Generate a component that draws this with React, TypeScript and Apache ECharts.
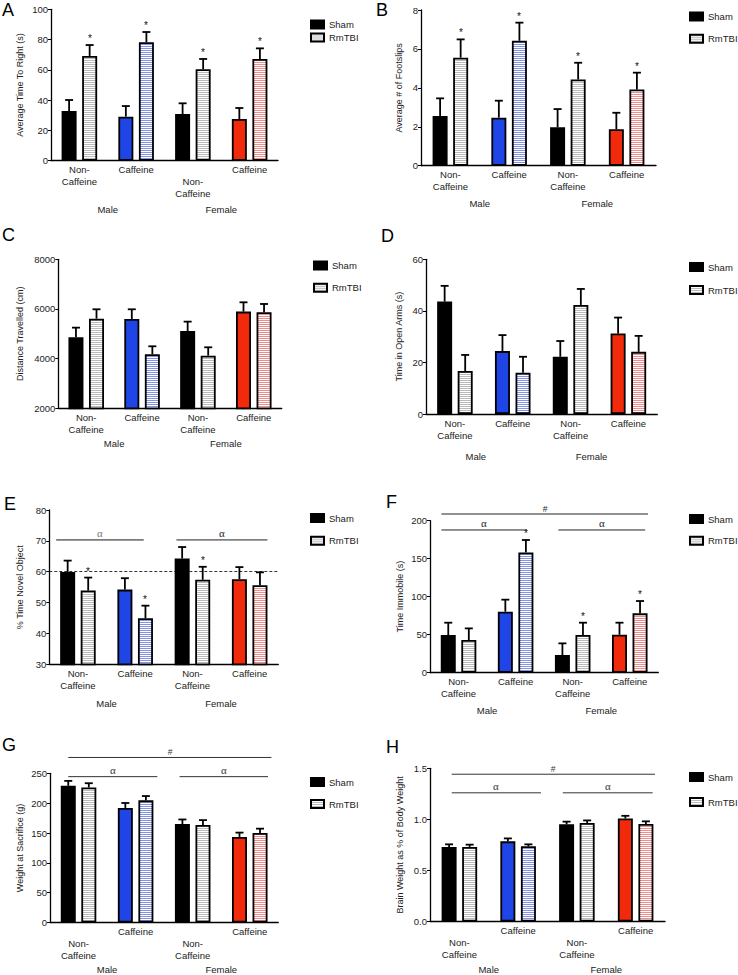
import React, { useEffect, useRef } from 'react';
import * as echarts from 'echarts';

// ---------- categories / labels ----------
const groups = ['Non-\nCaffeine', 'Caffeine', 'Non-\nCaffeine', 'Caffeine'];
const sexes = ['Male', 'Female'];
const legendNames = ['Sham', 'RmTBI'];

// ---------- data (mean, SEM, significance stars) ----------
// A: Average Time To Right (s)
const aSham = [32.8, 29.1, 30.8, 27.5];
const aShamErr = [7.3, 7.0, 7.1, 7.3];
const aTbi = [69.2, 78.2, 60.4, 67.2];
const aTbiErr = [7.2, 6.8, 6.8, 7.0];
const aTbiStar = [1, 1, 1, 1];

// B: Average # of Footslips
const bSham = [2.55, 2.47, 1.97, 1.87];
const bShamErr = [0.91, 0.87, 0.94, 0.85];
const bTbi = [5.55, 6.42, 4.43, 3.92];
const bTbiErr = [0.94, 0.93, 0.86, 0.86];
const bTbiStar = [1, 1, 1, 1];

// C: Distance Travelled (cm)
const cSham = [4859, 5597, 5114, 5893];
const cShamErr = [389, 390, 376, 375];
const cTbi = [5611, 4174, 4121, 5866];
const cTbiErr = [376, 323, 335, 335];
const cTbiStar = [0, 0, 0, 0];

// D: Time in Open Arms (s)
const dSham = [43.6, 24.4, 22.2, 31.2];
const dShamErr = [6.1, 6.2, 6.1, 6.2];
const dTbi = [16.7, 16.0, 42.3, 24.1];
const dTbiErr = [6.2, 6.2, 6.2, 6.2];
const dTbiStar = [0, 0, 0, 0];

// E: % Time Novel Object
const eSham = [59.9, 54.2, 64.3, 57.6];
const eShamErr = [3.7, 3.7, 3.7, 3.9];
const eTbi = [53.9, 44.9, 57.4, 55.6];
const eTbiErr = [4.2, 4.1, 4.2, 4.2];
const eTbiStar = [1, 1, 1, 0];
const eChance = 60;
const eLines: [number, number, number, string][] = [
  [-0.38, 1.15, 70.3, 'α'],
  [1.72, 3.31, 70.3, 'α'],
];

// F: Time Immobile (s)
const fSham = [49.6, 80.3, 23.2, 50.0];
const fShamErr = [16.2, 15.8, 15.4, 15.8];
const fTbi = [43.0, 158.3, 49.6, 78.1];
const fTbiErr = [15.3, 16.3, 16.2, 16.2];
const fTbiStar = [0, 1, 1, 1];
const fLines: [number, number, number, string][] = [
  [-0.3, 3.32, 208.8, '#'],
  [-0.3, 1.2, 187.8, 'α'],
  [1.75, 3.27, 187.8, 'α'],
];

// G: Weight at Sacrifice (g)
const gSham = [229, 192, 165, 143.5];
const gShamErr = [8.3, 8.3, 7.7, 7.2];
const gTbi = [226.3, 204.7, 163.4, 150.1];
const gTbiErr = [7.1, 7.2, 8.2, 7.2];
const gTbiStar = [0, 0, 0, 0];
const gLines: [number, number, number, string][] = [
  [-0.18, 3.38, 276.5, '#'],
  [-0.18, 1.38, 244.4, 'α'],
  [1.77, 3.32, 244.4, 'α'],
];

// H: Brain Weight as % of Body Weight
const hSham = [0.731, 0.785, 0.952, 1.01];
const hShamErr = [0.025, 0.029, 0.026, 0.025];
const hTbi = [0.731, 0.737, 0.965, 0.955];
const hTbiErr = [0.022, 0.019, 0.025, 0.026];
const hTbiStar = [0, 0, 0, 0];
const hLines: [number, number, number, string][] = [
  [-0.13, 3.33, 1.442, '#'],
  [-0.13, 1.39, 1.26, 'α'],
  [1.76, 3.29, 1.26, 'α'],
];

// ---------- styles ----------
const FONT = '"Liberation Sans", Arial, Helvetica, sans-serif';
const SERIF = '"Liberation Serif", "DejaVu Serif", serif';
const shamColors = ['#000000', '#1f45e6', '#000000', '#f22a0c'];
const tbiStripeColors = ['#bababa', '#8493e8', '#f28c8c'];
const tbiColorIndex = [0, 1, 0, 2];
const BW = 15;
const GAP = 0.37;
const OFF = (BW * (1 + GAP)) / 2;

function stripe(color: string): any {
  const c = document.createElement('canvas');
  c.width = 2;
  c.height = 2;
  const ctx = c.getContext('2d') as CanvasRenderingContext2D;
  ctx.fillStyle = '#ffffff';
  ctx.fillRect(0, 0, 2, 2);
  ctx.fillStyle = color;
  ctx.fillRect(0, 0, 2, 1);
  return { image: c.toDataURL(), repeat: 'repeat', imageWidth: 2, imageHeight: 2 };
}

const panels: any[] = [
  {
    key: 'A', title: [2, 1], grid: [51, 9.3, 227, 151.4], y: [0, 100, 20],
    yName: 'Average Time To Right (s)', nameGap: 26.5, legend: [310, 19, 2],
    lowered: [2], sexOffset: 42.3, sexShift: 0,
    sham: aSham, shamErr: aShamErr, tbi: aTbi, tbiErr: aTbiErr, star: aTbiStar,
  },
  {
    key: 'B', title: [376, 1], grid: [421, 10, 235, 155.7], y: [0, 8, 2],
    yName: 'Average # of Footslips', nameGap: 17.5, legend: [689, 11, 11.3],
    lowered: [], sexOffset: 31.3, sexShift: 0,
    sham: bSham, shamErr: bShamErr, tbi: bTbi, tbiErr: bTbiErr, star: bTbiStar,
  },
  {
    key: 'C', title: [2, 226], grid: [58.3, 259.3, 223.4, 149], y: [2000, 8000, 2000],
    yName: 'Distance Travelled (cm)', nameGap: 33.8, legend: [313, 260, 11.3],
    lowered: [], sexOffset: 28.7, sexShift: 0,
    sham: cSham, shamErr: cShamErr, tbi: cTbi, tbiErr: cTbiErr, star: cTbiStar,
  },
  {
    key: 'D', title: [381, 227], grid: [426, 259.3, 231.3, 154.7], y: [0, 60, 20],
    yName: 'Time in Open Arms (s)', nameGap: 22.5, legend: [689, 261.5, 12],
    lowered: [], sexOffset: 36, sexShift: 16,
    sham: dSham, shamErr: dShamErr, tbi: dTbi, tbiErr: dTbiErr, star: dTbiStar,
  },
  {
    key: 'E', title: [4, 495], grid: [49.3, 510, 229, 154.3], y: [30, 80, 10],
    yName: '% Time Novel Object', nameGap: 24.8, legend: [310, 512.5, 11.7],
    lowered: [], sexOffset: 32.7, sexShift: 0,
    sham: eSham, shamErr: eShamErr, tbi: eTbi, tbiErr: eTbiErr, star: eTbiStar,
    refLine: eChance, lines: eLines, lineColors: ['#7a7a7a', '#222'], lineWidths: [1.8, 1],
  },
  {
    key: 'F', title: [386, 493], grid: [430, 520.7, 228.3, 152], y: [0, 200, 50],
    yName: 'Time Immobile (s)', nameGap: 25.5, legend: [689, 513.5, 10.7],
    lowered: [], sexOffset: 32, sexShift: 0,
    sham: fSham, shamErr: fShamErr, tbi: fTbi, tbiErr: fTbiErr, star: fTbiStar,
    lines: fLines, lineColors: ['#222', '#222', '#222'], lineWidths: [1, 1, 1],
  },
  {
    key: 'G', title: [2, 736], grid: [50, 773.3, 228.3, 151], y: [0, 250, 50],
    yName: 'Weight at Sacrifice (g)', nameGap: 25.5, legend: [310, 776.5, 11],
    lowered: [0, 2], sexOffset: 40.4, sexShift: 0,
    sham: gSham, shamErr: gShamErr, tbi: gTbi, tbiErr: gTbiErr, star: gTbiStar,
    lines: gLines, lineColors: ['#333', '#333', '#333'], lineWidths: [1, 1, 1],
  },
  {
    key: 'H', title: [386, 738], grid: [430, 768.3, 235, 156], y: [0, 1.5, 0.5],
    yName: 'Brain Weight as % of Body Weight', nameGap: 25.5, legend: [689, 771.5, 14],
    lowered: [0, 2], sexOffset: 41.4, sexShift: 0, yFmt: (v: number) => v.toFixed(1),
    sham: hSham, shamErr: hShamErr, tbi: hTbi, tbiErr: hTbiErr, star: hTbiStar,
    lines: hLines, lineColors: ['#333', '#333', '#333'], lineWidths: [1, 1, 1],
  },
];

function errSeries(vals: number[], errs: number[], stars: number[] | null, off: number, g: number) {
  return {
    type: 'custom',
    name: 'err',
    xAxisIndex: g * 3,
    yAxisIndex: g,
    z: 5,
    silent: true,
    clip: false,
    itemStyle: { color: '#000' },
    encode: { x: 0, y: 1 },
    data: vals.map((v, i) => [i, v + errs[i], v, stars ? stars[i] : 0]),
    renderItem: (params: any, api: any) => {
      const i = api.value(0);
      const top = api.coord([i, api.value(1)]);
      const base = api.coord([i, api.value(2)]);
      const x = top[0] + off;
      const children: any[] = [
        { type: 'line', shape: { x1: x, y1: base[1], x2: x, y2: top[1] }, style: { stroke: '#000', lineWidth: 1.8 } },
        { type: 'line', shape: { x1: x - 4, y1: top[1], x2: x + 4, y2: top[1] }, style: { stroke: '#000', lineWidth: 1.8 } },
      ];
      if (api.value(3)) {
        children.push({
          type: 'text',
          style: {
            text: '*', x: Math.round(x), y: Math.round(top[1] - 2),
            align: 'center', verticalAlign: 'bottom', textAlign: 'center', textVerticalAlign: 'bottom',
            fontSize: 10, fontFamily: FONT, fill: '#111', textFill: '#111',
          },
        });
      }
      return { type: 'group', children };
    },
  };
}

function lineSeries(p: any, g: number) {
  const lines = p.lines as [number, number, number, string][];
  return {
    type: 'custom',
    name: 'annot',
    xAxisIndex: g * 3 + 2,
    yAxisIndex: g,
    z: 5,
    silent: true,
    clip: false,
    itemStyle: { color: '#000' },
    encode: { x: 0, y: 2 },
    data: lines.map((l) => [l[0], l[1], l[2]]),
    renderItem: (params: any, api: any) => {
      const idx = params.dataIndex;
      const mark = lines[idx][3];
      const p0 = api.coord([api.value(0), api.value(2)]);
      const p1 = api.coord([api.value(1), api.value(2)]);
      const isAlpha = mark === 'α';
      return {
        type: 'group',
        children: [
          {
            type: 'line',
            shape: { x1: p0[0], y1: p0[1], x2: p1[0], y2: p1[1] },
            style: { stroke: p.lineColors[idx], lineWidth: p.lineWidths[idx] },
          },
          {
            type: 'text',
            style: {
              text: mark, x: Math.round((p0[0] + p1[0]) / 2), y: Math.round(p0[1] - 1.5),
              align: 'center', verticalAlign: 'bottom', textAlign: 'center', textVerticalAlign: 'bottom',
              fontSize: isAlpha ? 11 : 8.5, fontFamily: isAlpha ? SERIF : FONT,
              fill: p.lineColors[idx], textFill: p.lineColors[idx],
            },
          },
        ],
      };
    },
  };
}

function buildOption() {
  const patterns = tbiStripeColors.map(stripe);
  const title: any[] = [];
  const grid: any[] = [];
  const xAxis: any[] = [];
  const yAxis: any[] = [];
  const legend: any[] = [];
  const series: any[] = [];

  panels.forEach((p, g) => {
    title.push({
      text: p.key, left: p.title[0], top: p.title[1], padding: 0,
      textStyle: { fontSize: 18, fontWeight: 'normal', fontFamily: FONT, color: '#000' },
    });
    grid.push({ left: p.grid[0], top: p.grid[1], width: p.grid[2], height: p.grid[3] });
    xAxis.push({
      type: 'category', gridIndex: g, data: groups, position: 'bottom',
      axisLine: { onZero: false, lineStyle: { color: '#000', width: 1.3 } },
      axisTick: { alignWithLabel: true, length: 3, lineStyle: { color: '#000', width: 1 } },
      axisLabel: {
        interval: 0, margin: 3, fontSize: 9.5, lineHeight: 12, color: '#222', fontFamily: FONT,
        formatter: (v: string, i: number) => (p.lowered.includes(i) ? '\n' + v : v),
      },
      splitLine: { show: false },
    });
    xAxis.push({
      type: 'category', gridIndex: g, data: sexes, position: 'bottom', offset: p.sexOffset,
      axisLine: { show: false, onZero: false }, axisTick: { show: false },
      axisLabel: {
        margin: 0, fontSize: 9.5, lineHeight: 12, color: '#222', fontFamily: FONT,
        padding: [0, p.sexShift, 0, 0],
      },
      splitLine: { show: false },
    });
    xAxis.push({
      type: 'value', gridIndex: g, min: -0.5, max: 3.5, show: false, position: 'top',
      axisLine: { onZero: false },
    });
    yAxis.push({
      type: 'value', gridIndex: g, min: p.y[0], max: p.y[1], interval: p.y[2], position: 'left',
      name: p.yName, nameLocation: 'middle', nameGap: p.nameGap,
      nameTextStyle: { fontSize: 9, color: '#222', fontFamily: FONT },
      axisLine: { show: true, onZero: false, lineStyle: { color: '#000', width: 1.3 } },
      axisTick: { show: true, length: 3, lineStyle: { color: '#000', width: 1 } },
      axisLabel: {
        margin: 3, fontSize: 9.5, color: '#222', fontFamily: FONT,
        formatter: p.yFmt ? p.yFmt : (v: number) => String(v),
      },
      splitLine: { show: false },
    });
    legend.push({
      data: legendNames, orient: 'vertical', left: p.legend[0], top: p.legend[1], itemGap: p.legend[2],
      padding: 0, itemWidth: 13, itemHeight: 8, icon: 'rect', selectedMode: false,
      textStyle: { fontSize: 9.5, lineHeight: 11, color: '#222', fontFamily: FONT },
    });

    series.push({
      type: 'bar', name: 'Sham', xAxisIndex: g * 3, yAxisIndex: g,
      barWidth: BW, barGap: `${GAP * 100}%`,
      itemStyle: { color: '#000', borderColor: '#000', borderWidth: 1.8 },
      data: (p.sham as number[]).map((v, i) => ({ value: v, itemStyle: { color: shamColors[i] } })),
      markLine: p.refLine != null ? {
        silent: true, symbol: ['none', 'none'], label: { show: false },
        lineStyle: { type: [3, 2], color: '#000', width: 0.8 },
        data: [{ yAxis: p.refLine }],
      } : undefined,
    });
    series.push({
      type: 'bar', name: 'RmTBI', xAxisIndex: g * 3, yAxisIndex: g,
      barWidth: BW, barGap: `${GAP * 100}%`,
      itemStyle: { color: patterns[0], borderColor: '#000', borderWidth: 1.8 },
      data: (p.tbi as number[]).map((v, i) => ({ value: v, itemStyle: { color: patterns[tbiColorIndex[i]] } })),
    });
    series.push(errSeries(p.sham, p.shamErr, null, -OFF, g));
    series.push(errSeries(p.tbi, p.tbiErr, p.star, OFF, g));
    if (p.lines) series.push(lineSeries(p, g));
  });

  return { animation: false, backgroundColor: '#fff', title, grid, xAxis, yAxis, legend, series };
}

export default function App() {
  const ref = useRef<HTMLDivElement>(null);
  useEffect(() => {
    const chart = echarts.init(ref.current as HTMLDivElement, null, { renderer: 'svg' });
    chart.setOption(buildOption() as any);
    return () => chart.dispose();
  }, []);
  return (
    <div
      ref={ref}
      style={{ position: 'absolute', left: 0, top: 0, width: 738, height: 975, background: '#fff' }}
    />
  );
}
